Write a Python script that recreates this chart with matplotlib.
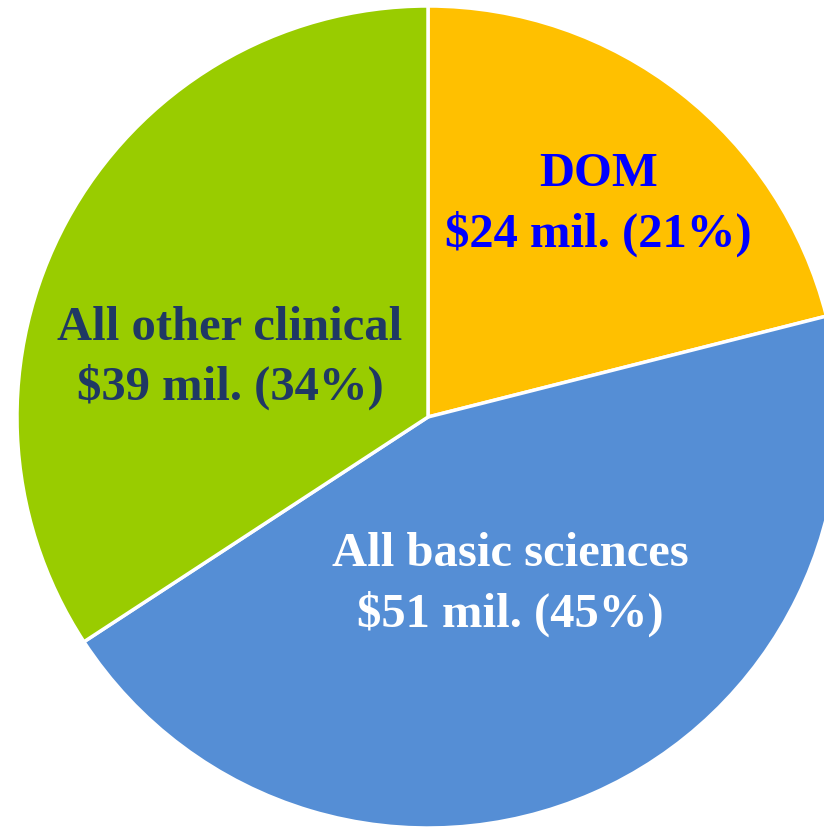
import matplotlib
matplotlib.use("Agg")
import matplotlib.pyplot as plt

labels = ["DOM", "All basic sciences", "All other clinical"]
amounts = [24, 51, 39]
pcts = [21, 45, 34]
colors = ["#FFC000", "#558ED5", "#99CC00"]
text_colors = ["#0000FF", "#FFFFFF", "#1F3864"]
label_pos = [(0.414, 0.520), (0.20, -0.405), (-0.482, 0.146)]

fig = plt.figure(figsize=(8.24, 8.28), dpi=100)
ax = fig.add_axes([0, 0, 1, 1])
ax.pie(amounts, colors=colors, startangle=90, counterclock=False, radius=1.0,
       wedgeprops=dict(edgecolor="white", linewidth=2.5))
for lab, amt, pct, tc, (x, y) in zip(labels, amounts, pcts, text_colors, label_pos):
    ax.text(x, y, f"{lab}\n${amt} mil. ({pct}%)", ha="center", va="center",
            color=tc, fontsize=35, fontweight="bold", family="Liberation Serif",
            linespacing=1.4)
ax.set_aspect("auto")
ax.set_xlim(-428 / 411, 396 / 411)
ax.set_ylim(-410 / 411, 418 / 411)
ax.axis("off")
fig.savefig("out.png", dpi=100)
